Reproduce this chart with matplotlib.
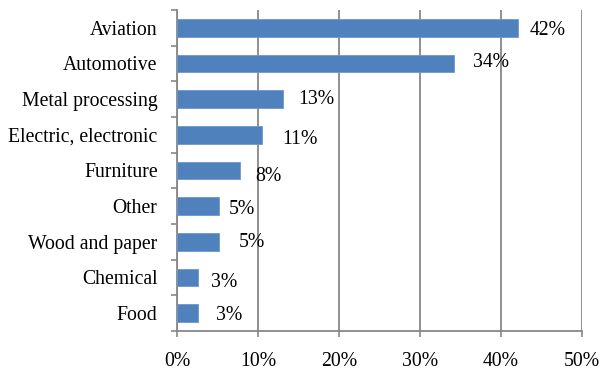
import matplotlib
matplotlib.use("Agg")
import matplotlib.pyplot as plt
import numpy as np

# data (percent)
sectors = ["Aviation", "Automotive", "Metal processing", "Electric, electronic",
           "Furniture", "Other", "Wood and paper", "Chemical", "Food"]
shares = [42.1, 34.2, 13.1, 10.5, 7.8, 5.2, 5.2, 2.6, 2.6]
share_labels = ["42%", "34%", "13%", "11%", "8%", "5%", "5%", "3%", "3%"]
xticks = [0, 10, 20, 30, 40, 50]

# label offsets (pixels) as placed in the original
lab_dx = [12, 19, 15, 20, 15, 10, 20, 13, 18]
lab_dy = [3, -1, 0, 5, 6, 3, 1, 5, 2]

plt.rcParams['font.family'] = ['Liberation Serif', 'DejaVu Serif']
fs = 14.2
barc = "#4F81BD"
gridc = "#878787"

fig = plt.figure(figsize=(6.03, 3.76), dpi=100)
ax = fig.add_axes([177/603, 45/376, 405/603, 321/376])

y = np.arange(len(sectors))
ax.barh(y, shares, height=0.49, color=barc, edgecolor="#6f97c9", linewidth=0.6, zorder=3)

for yi, v, lab, dx, dy in zip(y, shares, share_labels, lab_dx, lab_dy):
    ax.annotate(lab, (v, yi), xytext=(dx*0.72, -dy*0.72), textcoords="offset points",
                ha="left", va="center", fontsize=fs)

ax.set_ylim(len(sectors) - 0.5, -0.5)
ax.set_xlim(0, 50)
ax.set_yticks(y)
ax.set_yticklabels(sectors, fontsize=fs)
ax.set_yticks(np.arange(len(sectors) + 1) - 0.5, minor=True)
ax.tick_params(axis="y", which="major", length=0, pad=14)
ax.tick_params(axis="y", which="minor", length=4, color=gridc, width=1.2)
ax.set_xticks(xticks)
ax.set_xticklabels(["%d%%" % t for t in xticks], fontsize=fs)
ax.tick_params(axis="x", length=4, color=gridc, width=1.2, pad=11)

ax.grid(axis="x", color=gridc, linewidth=1.3, zorder=0)
for s in ["top", "right"]:
    ax.spines[s].set_visible(False)
for s in ["left", "bottom"]:
    ax.spines[s].set_color(gridc)
    ax.spines[s].set_linewidth(1.3)

plt.savefig("out.png", dpi=100)
